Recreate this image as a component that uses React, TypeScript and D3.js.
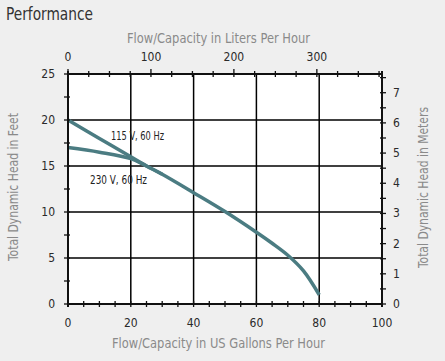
import React from "react";
import * as d3 from "d3";

const gallons115 = [0, 10, 20, 25, 30, 40, 50, 60, 65, 70, 75, 80];
const head115 = [20, 18, 16, 15, 14.1, 12.1, 10.05, 7.8, 6.6, 5.3, 3.6, 1.0];
const gallons230 = [0, 10, 20, 25, 30];
const head230 = [17, 16.5, 15.8, 15.0, 14.1];

const xTicks = [0, 20, 40, 60, 80, 100];
const yTicks = [0, 5, 10, 15, 20, 25];
const literTicks = [0, 100, 200, 300];
const meterTicks = [0, 1, 2, 3, 4, 5, 6, 7];

const W = 445, H = 361;
const FONT = "'DejaVu Sans', sans-serif";
const cond: React.CSSProperties = { fontStretch: "condensed" };

export default function App() {
  const x = d3.scaleLinear().domain([0, 100]).range([68, 382]);
  const y = d3.scaleLinear().domain([0, 25]).range([304, 74]);
  const xL = d3.scaleLinear().domain([0, 378.541]).range([68, 382]);
  const yM = d3.scaleLinear().domain([0, 25 * 0.3048]).range([304, 74]);

  const line = d3.line<[number, number]>()
    .x(d => x(d[0]))
    .y(d => y(d[1]))
    .curve(d3.curveCatmullRom.alpha(0.5));

  const d115 = line(gallons115.map((g, i) => [g, head115[i]] as [number, number]))!;
  const d230 = line(gallons230.map((g, i) => [g, head230[i]] as [number, number]))!;

  const [x0, x1] = x.range();
  const [yb, yt] = y.range();

  const minorX = d3.range(0, 101, 5);
  const minorY = d3.range(0, 25.01, 2.5);
  const minorL = d3.range(0, 378, 25);
  const minorM = d3.range(0, 7.6, 0.5);

  const tickColor = "#111";
  const labelColor = "#2a2a2a";
  const titleColor = "#8a8a8a";

  return (
    <svg width={W} height={H} style={{ position: "absolute", left: 0, top: 0, background: "#efefef" }}>
      <rect x={0} y={0} width={W} height={H} fill="#efefef" />
      <text x={6} y={20} fontFamily={FONT} fontSize={17} fill="#333" style={cond} textLength={87} lengthAdjust="spacingAndGlyphs">Performance</text>

      <rect x={x0} y={yt} width={x1 - x0} height={yb - yt} fill="#ffffff" />

      {/* grid */}
      {xTicks.filter(t => t > 0 && t < 100).map(t => (
        <line key={"gx" + t} x1={x(t)} x2={x(t)} y1={yt} y2={yb} stroke="#000" strokeWidth={1.5} />
      ))}
      {yTicks.filter(t => t > 0 && t < 25).map(t => (
        <line key={"gy" + t} x1={x0} x2={x1} y1={y(t)} y2={y(t)} stroke="#000" strokeWidth={1.5} />
      ))}

      {/* curves */}
      <path d={d230} fill="none" stroke="#4b7c82" strokeWidth={3.5} strokeLinecap="butt" />
      <path d={d115} fill="none" stroke="#4b7c82" strokeWidth={3.5} strokeLinecap="butt" />

      {/* axes lines */}
      <line x1={x0} x2={x1} y1={yb} y2={yb} stroke={tickColor} strokeWidth={2} />
      <line x1={x0} x2={x1} y1={yt} y2={yt} stroke={tickColor} strokeWidth={2} />
      <line x1={x0} x2={x0} y1={yt - 3} y2={yb + 3} stroke={tickColor} strokeWidth={2} />
      <line x1={x1} x2={x1} y1={yt - 3} y2={yb + 3} stroke={tickColor} strokeWidth={2} />

      {/* bottom ticks */}
      {minorX.map(t => (
        <line key={"bt" + t} x1={x(t)} x2={x(t)} y1={yb - 3} y2={yb + 3} stroke={tickColor} strokeWidth={1.3} />
      ))}
      {/* left ticks */}
      {minorY.map(t => (
        <line key={"lt" + t} x1={x0 - 4} x2={x0 + 2} y1={y(t)} y2={y(t)} stroke={tickColor} strokeWidth={1.3} />
      ))}
      {/* top ticks */}
      {minorL.map(t => (
        <line key={"tt" + t} x1={xL(t)} x2={xL(t)} y1={yt - (t % 100 === 0 ? 5 : 3)} y2={yt + 3} stroke={tickColor} strokeWidth={1.3} />
      ))}
      {/* right ticks */}
      {minorM.map(t => (
        <line key={"rt" + t} x1={x1 - 2} x2={x1 + 4} y1={yM(t)} y2={yM(t)} stroke={tickColor} strokeWidth={1.3} />
      ))}

      {/* tick labels */}
      {xTicks.map(t => (
        <text key={"xl" + t} x={x(t)} y={327} textAnchor="middle" fontFamily={FONT} fontSize={12} fill={labelColor} style={cond}>{t}</text>
      ))}
      {yTicks.map(t => (
        <text key={"yl" + t} x={55} y={y(t) + 4} textAnchor="end" fontFamily={FONT} fontSize={12} fill={labelColor} style={cond}>{t}</text>
      ))}
      {literTicks.map(t => (
        <text key={"ll" + t} x={xL(t)} y={61} textAnchor="middle" fontFamily={FONT} fontSize={12} fill={labelColor} style={cond}>{t}</text>
      ))}
      {meterTicks.map(t => (
        <text key={"ml" + t} x={393} y={yM(t) + 4} textAnchor="start" fontFamily={FONT} fontSize={12} fill={labelColor} style={cond}>{t}</text>
      ))}

      {/* axis titles */}
      <text x={127} y={43} fontFamily={FONT} fontSize={14} fill={titleColor} style={cond} textLength={183} lengthAdjust="spacingAndGlyphs">Flow/Capacity in Liters Per Hour</text>
      <text x={112} y={348} fontFamily={FONT} fontSize={14} fill={titleColor} style={cond} textLength={213} lengthAdjust="spacingAndGlyphs">Flow/Capacity in US Gallons Per Hour</text>
      <text transform="translate(18,261) rotate(-90)" fontFamily={FONT} fontSize={14} fill={titleColor} style={cond} textLength={148} lengthAdjust="spacingAndGlyphs">Total Dynamic Head in Feet</text>
      <text transform="translate(428,268) rotate(-90)" fontFamily={FONT} fontSize={14} fill={titleColor} style={cond} textLength={161} lengthAdjust="spacingAndGlyphs">Total Dynamic Head in Meters</text>

      {/* series labels */}
      <text x={111} y={140} fontFamily={FONT} fontSize={11.5} fill="#222" style={cond} textLength={53} lengthAdjust="spacingAndGlyphs">115 V, 60 Hz</text>
      <text x={90} y={184} fontFamily={FONT} fontSize={11.5} fill="#222" style={cond} textLength={57} lengthAdjust="spacingAndGlyphs">230 V, 60 Hz</text>
    </svg>
  );
}
